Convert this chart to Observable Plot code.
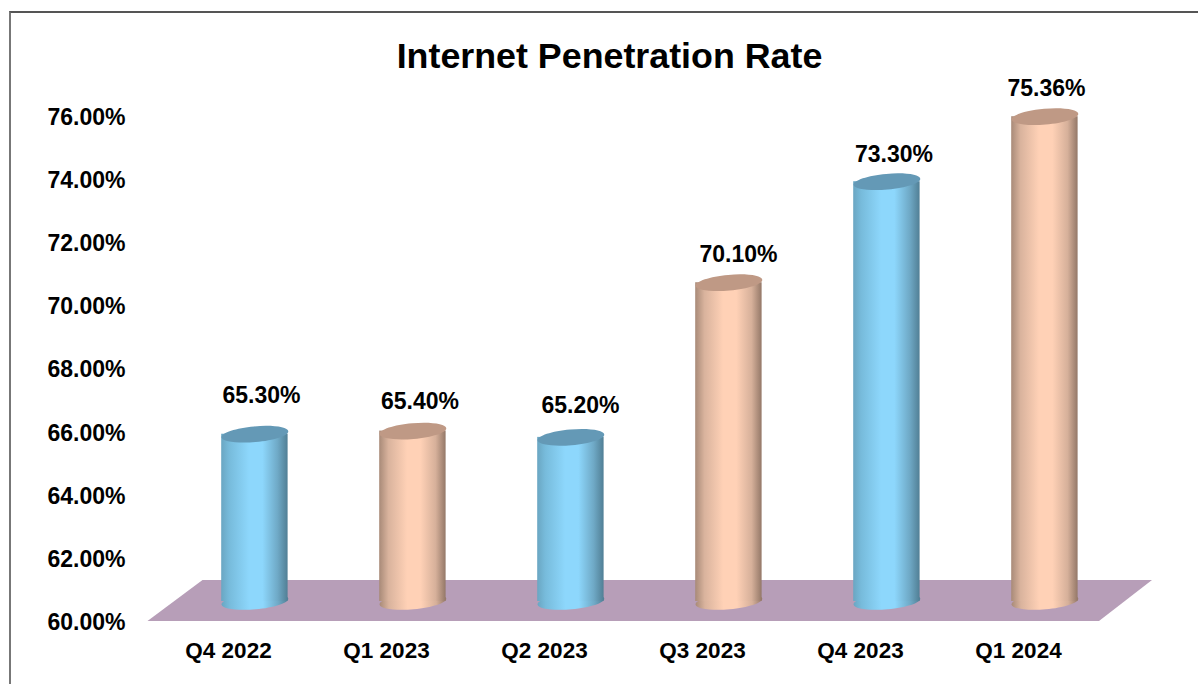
<!DOCTYPE html>
<html>
<head>
<meta charset="utf-8">
<script src="https://cdn.jsdelivr.net/npm/d3@7"></script>
<script src="https://cdn.jsdelivr.net/npm/@observablehq/plot@0.6"></script>
<style>
html,body{margin:0;padding:0;background:#fff;width:1198px;height:684px;overflow:hidden;}
#frame{position:absolute;left:9px;top:11px;width:1300px;height:800px;border-left:2px solid #777;border-top:2px solid #555;box-sizing:border-box;}
h1{position:absolute;z-index:2;left:0;top:34px;width:1219px;margin:0;text-align:center;font:bold 35.8px "Liberation Sans",Arial,sans-serif;color:#000;line-height:44px;}
#chart{position:absolute;left:0;top:55px;}
svg{font-family:"Liberation Sans",Arial,sans-serif;background:transparent;}
</style>
</head>
<body>
<div id="frame"></div>
<h1>Internet Penetration Rate</h1>
<div id="chart"></div>
<script>
const quarters = ["Q4 2022","Q1 2023","Q2 2023","Q3 2023","Q4 2023","Q1 2024"];
const rates = [65.30,65.40,65.20,70.10,73.30,75.36];
const palettes = ["blue","peach","blue","peach","blue","peach"];
const yTicks = [60,62,64,66,68,70,72,74,76];

const rows = quarters.map((q,i)=>({q,v:rates[i],p:palettes[i]}));
const bodyFill = {blue:"url(#gBlue)",peach:"url(#gPeach)"};
const capFill = {blue:"#6499b6",peach:"#bf9985"};
const base = 60;

// tilted ellipse symbol for the cylinder caps
const tilted = {draw(ctx,size){
  const a=Math.sqrt(size/Math.PI), b=a*0.235, t=-5*Math.PI/180, k=0.5523;
  const c=Math.cos(t), s=Math.sin(t);
  const P=(x,y)=>[x*c-y*s,x*s+y*c];
  ctx.moveTo(...P(a,0));
  ctx.bezierCurveTo(...P(a,k*b),...P(k*a,b),...P(0,b));
  ctx.bezierCurveTo(...P(-k*a,b),...P(-a,k*b),...P(-a,0));
  ctx.bezierCurveTo(...P(-a,-k*b),...P(-k*a,-b),...P(0,-b));
  ctx.bezierCurveTo(...P(k*a,-b),...P(a,-k*b),...P(a,0));
  ctx.closePath();
}};

function defs(){
  const d=d3.create("svg:defs");
  const mk=(id,stops)=>{
    const g=d.append("linearGradient").attr("id",id).attr("x1",0).attr("x2",1).attr("y1",0).attr("y2",0);
    stops.forEach(([o,c])=>g.append("stop").attr("offset",o).attr("stop-color",c));
  };
  mk("gBlue",[[0,"#6aa6c2"],[0.12,"#77bbdb"],[0.42,"#8dd7fc"],[0.62,"#8dd7fc"],[0.85,"#6fa9c6"],[1,"#517f95"]]);
  mk("gPeach",[[0,"#a88a78"],[0.14,"#d9b39d"],[0.42,"#ffd1b6"],[0.62,"#ffd1b6"],[0.85,"#d6b09a"],[1,"#947868"]]);
  return d.node();
}
function floor(index,scales,values,dim){
  const y0=scales.y(base), xl=dim.marginLeft, xr=dim.width-dim.marginRight;
  return d3.create("svg:path")
    .attr("d",`M${xl},${y0}L${xr},${y0}L${xr+53},${y0-41}L${xl+55},${y0-41}Z`)
    .attr("fill","#b79eb8").node();
}

const dx=26.4, dy=-20;
const labelNudge = [[33,-59],[33.5,-49],[36,-52],[36,-48],[33.5,-47],[28,-48]];
const labelMarks = rows.map((r,i)=>Plot.text([r],{x:"q",y:"v",text:d=>d.v.toFixed(2)+"%",dx:labelNudge[i][0],dy:labelNudge[i][1],fontSize:23,fontWeight:"bold",fill:"#000"}));
const plot = Plot.plot({
  width:1198, height:629,
  marginLeft:147.5, marginRight:99, marginTop:61, marginBottom:63,
  x:{type:"band",domain:quarters,padding:0,label:null},
  y:{domain:[60,76],label:null},
  color:{type:"identity"},
  marks:[
    defs,
    floor,
    Plot.axisY({ticks:yTicks,tickSize:0,tickPadding:22.5,dy:1,tickFormat:d=>d.toFixed(2)+"%",fontSize:23,fontWeight:"bold",fill:"#000",label:null}),
    Plot.axisX({tickSize:0,tickPadding:21,fontSize:22.5,fontWeight:"bold",fill:"#000",label:null}),
    Plot.dot(rows,{x:"q",y:()=>base,r:33.5,symbol:tilted,fill:d=>bodyFill[d.p],dx,dy}),
    Plot.barY(rows,{x:"q",y1:()=>base,y2:"v",fill:d=>bodyFill[d.p],insetLeft:45.8,insetRight:45.8,dx,dy}),
    Plot.dot(rows,{x:"q",y:"v",r:33.5,symbol:tilted,fill:d=>capFill[d.p],dx,dy}),
    ...labelMarks
  ]
});
document.getElementById("chart").appendChild(plot);
</script>
</body>
</html>
